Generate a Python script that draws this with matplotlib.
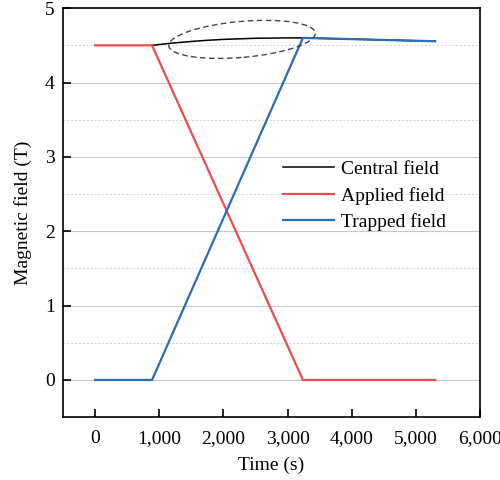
import matplotlib
matplotlib.use("Agg")
import matplotlib.pyplot as plt
from matplotlib.patches import Ellipse
from matplotlib.transforms import ScaledTranslation
from matplotlib.ticker import MultipleLocator, FuncFormatter

plt.rcParams['font.family'] = ['Liberation Serif', 'DejaVu Serif']

# Magnetization sequence (time in s, field in T)
applied_t = [0, 888, 3240, 5300]
applied_b = [4.50, 4.50, 0.0, 0.0]

trapped_t = [0, 888, 3240, 5300]
trapped_b = [0.0, 0.0, 4.60, 4.555]

central_t = [888, 1200, 1500, 1750, 2000, 2500, 3000, 3240, 5300]
central_b = [4.50, 4.53, 4.552, 4.568, 4.58, 4.595, 4.60, 4.60, 4.555]

x_ticks = [0, 1000, 2000, 3000, 4000, 5000, 6000]
y_ticks = [0, 1, 2, 3, 4, 5]

red = '#ee4a52'
blue = '#2e6ab8'
fs = 14

fig = plt.figure(figsize=(5.0, 4.8), dpi=100)
ax = fig.add_axes([0.126, 0.131, 0.834, 0.852])

ax.plot(central_t, central_b, color='black', lw=1.1, label='Central field', zorder=3)
ax.plot(applied_t, applied_b, color=red, lw=1.6, label='Applied field', zorder=4)
ax.plot(trapped_t, trapped_b, color=blue, lw=1.6, label='Trapped field', zorder=5)

ax.set_xlim(-500, 6000)
ax.set_ylim(-0.5, 5)
ax.set_xticks(x_ticks)
ax.set_yticks(y_ticks)
ax.yaxis.set_minor_locator(MultipleLocator(0.5))
ax.xaxis.set_major_formatter(FuncFormatter(lambda v, p: f'{int(v):,}'))

ax.grid(axis='y', which='major', color='#c8c8c8', lw=0.8, ls='-', zorder=0)
ax.grid(axis='y', which='minor', color='#d4d4d4', lw=0.7, ls=(0, (2, 2)), zorder=0)
ax.tick_params(which='major', direction='in', length=5.5, width=1.2,
               labelsize=fs, top=False, right=False)
ax.tick_params(axis='y', pad=6)
ax.tick_params(axis='x', pad=9)
ax.tick_params(which='minor', length=0)
for s in ax.spines.values():
    s.set_linewidth(1.2)

ax.set_xlabel('Time (s)', fontsize=fs, labelpad=7)
ax.set_ylabel('Magnetic field (T)', fontsize=fs, labelpad=9)

# Dashed ellipse highlighting the central-field rise
trans = fig.dpi_scale_trans + ScaledTranslation(2291, 4.58, ax.transData)
ell = Ellipse((0, 0), 1.47, 0.36, angle=5, transform=trans, fill=False,
              edgecolor='#3a4468', lw=1.0, ls=(0, (4, 2.5)), zorder=6)
ax.add_patch(ell)

leg = ax.legend(loc='center left', bbox_to_anchor=(0.528, 0.541), frameon=False,
                fontsize=fs, handlelength=2.6, handletextpad=0.36,
                labelspacing=0.45, borderaxespad=0, borderpad=0)

fig.savefig('out.png', dpi=100)
